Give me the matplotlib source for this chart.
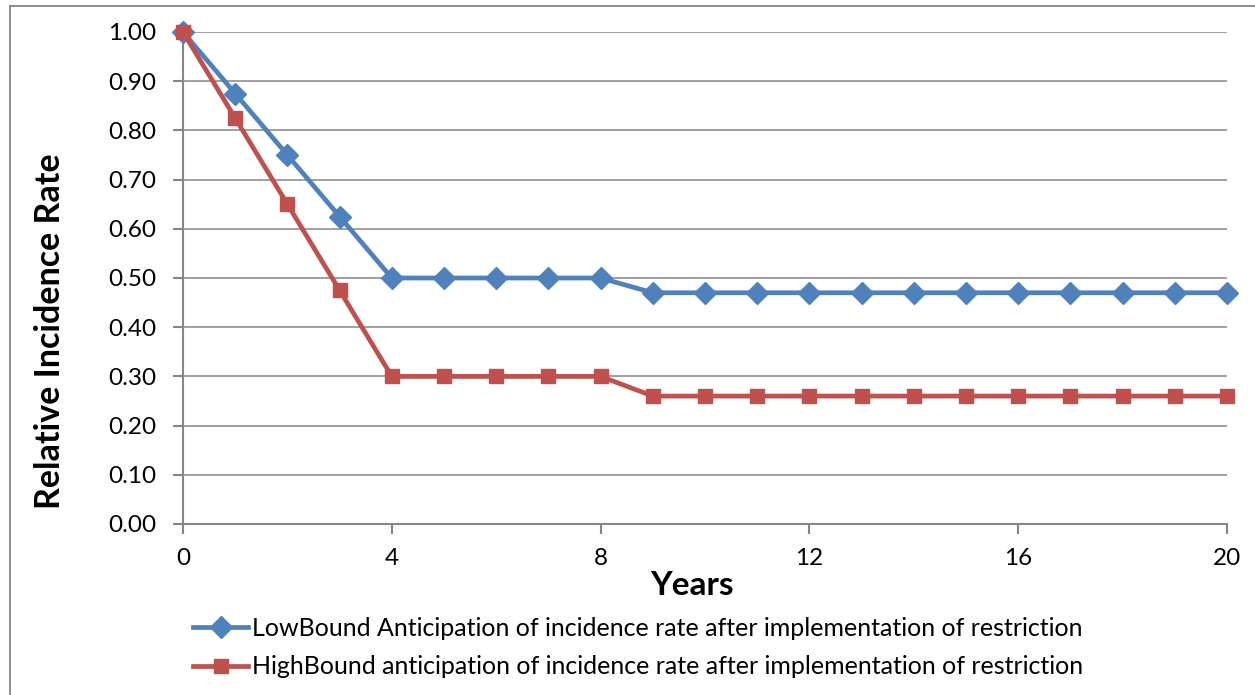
import matplotlib
matplotlib.use("Agg")
import matplotlib.pyplot as plt
from matplotlib.lines import Line2D
from matplotlib.ticker import FormatStrFormatter

plt.rcParams['font.family'] = ['Lato', 'DejaVu Sans']

years = list(range(0, 21))
low_bound = [1.00, 0.875, 0.75, 0.625, 0.50, 0.50, 0.50, 0.50, 0.50,
             0.47, 0.47, 0.47, 0.47, 0.47, 0.47, 0.47, 0.47, 0.47, 0.47, 0.47, 0.47]
high_bound = [1.00, 0.825, 0.65, 0.475, 0.30, 0.30, 0.30, 0.30, 0.30,
              0.26, 0.26, 0.26, 0.26, 0.26, 0.26, 0.26, 0.26, 0.26, 0.26, 0.26, 0.26]
low_label = "LowBound Anticipation of incidence rate after implementation of restriction"
high_label = "HighBound anticipation of incidence rate after implementation of restriction"
x_ticks = [0, 4, 8, 12, 16, 20]
y_ticks = [0.0, 0.1, 0.2, 0.3, 0.4, 0.5, 0.6, 0.7, 0.8, 0.9, 1.0]

blue = "#4F81BD"
red = "#C0504D"
gray = "#868686"

fig = plt.figure(figsize=(12.55, 6.95), dpi=100)
ax = fig.add_axes([183 / 1255, 1 - 524 / 695, (1227 - 183) / 1255, (524 - 32) / 695])

ax.plot(years, low_bound, color=blue, lw=3.4, marker="D", ms=11, clip_on=False, zorder=3,
        label=low_label)
ax.plot(years, high_bound, color=red, lw=3.4, marker="s", ms=10.5, clip_on=False, zorder=4,
        label=high_label)

ax.set_xlim(0, 20)
ax.set_ylim(0, 1)
ax.set_xticks(x_ticks)
ax.set_yticks(y_ticks)
ax.yaxis.set_major_formatter(FormatStrFormatter("%.2f"))
ax.grid(axis="y", color=gray, lw=1.1)
ax.set_axisbelow(True)

for s in ["top", "right"]:
    ax.spines[s].set_visible(False)
for s in ["left", "bottom"]:
    ax.spines[s].set_color(gray)
    ax.spines[s].set_linewidth(1.5)
ax.tick_params(axis="both", colors=gray, length=7, width=1.5, labelsize=17.5,
               labelcolor="black")
ax.tick_params(axis="x", pad=10)
ax.tick_params(axis="y", pad=12)

ax.set_xlabel("Years", fontsize=24, fontweight="bold", va="center")
ax.xaxis.set_label_coords(0.4875, -0.124)
ax.set_ylabel("Relative Incidence Rate", fontsize=24.5, fontweight="bold", va="center")
ax.yaxis.set_label_coords(-0.127, 0.392)

handles = [
    Line2D([], [], color=blue, lw=3.4, marker="D", ms=11),
    Line2D([], [], color=red, lw=3.4, marker="s", ms=10.5),
]
fig.legend(handles, [low_label, high_label], loc="upper left",
           bbox_to_anchor=(193 / 1255, 1 - 617 / 695), frameon=False,
           fontsize=18, handlelength=2.2, handletextpad=0.15, labelspacing=0.62,
           borderaxespad=0, borderpad=0)

# outer chart frame
fig.add_artist(Line2D([9.5 / 1255, 9.5 / 1255], [0, 1 - 5.5 / 695],
                      transform=fig.transFigure, color=gray, lw=1.3))
fig.add_artist(Line2D([9.5 / 1255, 1], [1 - 5.5 / 695, 1 - 5.5 / 695],
                      transform=fig.transFigure, color=gray, lw=1.3))

fig.savefig("out.png", dpi=100)
